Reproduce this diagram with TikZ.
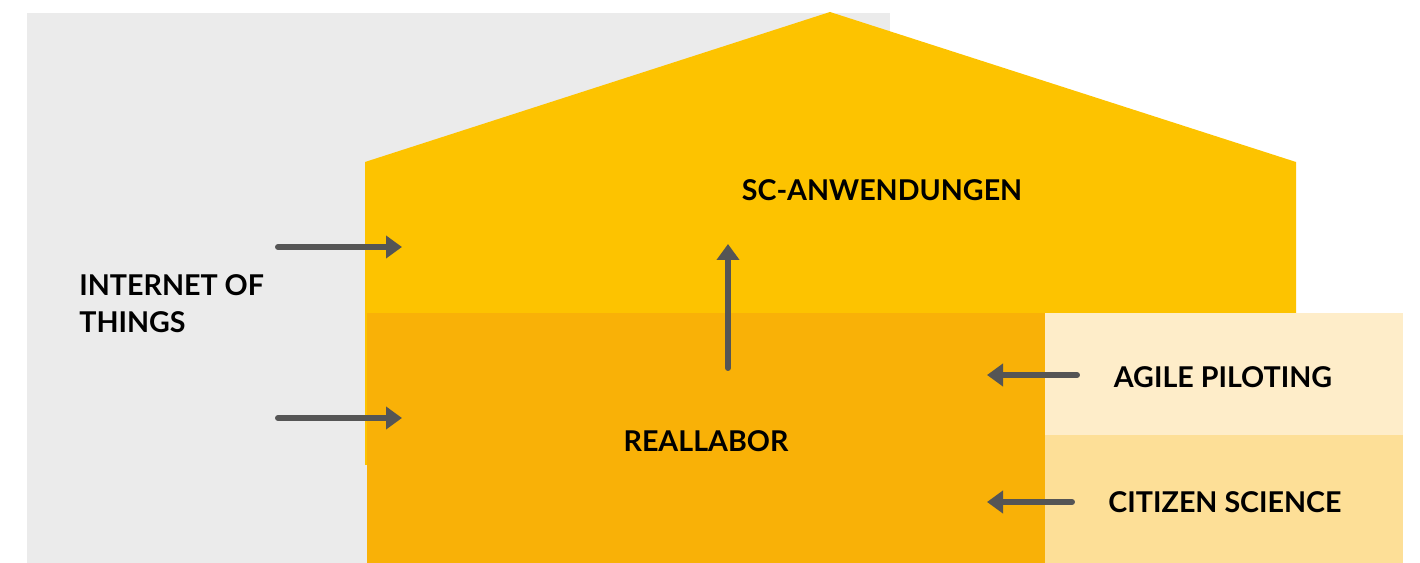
\documentclass[tikz,border=0pt]{standalone}
\usepackage{fontspec}
\setmainfont{Lato}
\usepackage{tikz}
\usetikzlibrary{arrows.meta, positioning}
\definecolor{labgrey}{HTML}{EBEBEB}
\definecolor{labyellow}{HTML}{FDC300}
\definecolor{laborange}{HTML}{F9B107}
\definecolor{labpale}{HTML}{FEEDC9}
\definecolor{labsand}{HTML}{FDDF97}
\definecolor{labarrow}{HTML}{555555}

\begin{document}
\begin{tikzpicture}[x=0.02cm, y=-0.02cm,
  label/.style={font=\bfseries\fontsize{16.3}{21}\selectfont, text=black, inner sep=0pt},
  arrow/.style={-{Triangle[length=0.32cm, width=0.44cm]}, line width=3.4pt,
    line cap=round, draw=labarrow}]
  \useasboundingbox (0,0) rectangle (1420,563);
  % background and house
  \fill[labgrey] (27,13) rectangle (890,563);
  \fill[labyellow] (365,465) -- (365,162) -- (830,12) -- (1296,162) -- (1296,313) -- (367,313) -- (367,465) -- cycle;
  \fill[laborange] (367,313) rectangle (1045,563);
  \fill[labpale] (1045,313) rectangle (1403,435);
  \fill[labsand] (1045,435) rectangle (1403,563);

  \node[label] (apps) at (882,190) {SC-ANWENDUNGEN};
  \node[label] (lab) at (706,441) {REALLABOR};
  \node[label, align=left, anchor=west] (iot) at (79,304) {INTERNET OF\\THINGS};
  \node[label] (agile) at (1223,377) {AGILE PILOTING};
  \node[label] (citizen) at (1225,502) {CITIZEN SCIENCE};

  % arrow ends
  \coordinate (iotA) at (278,247);
  \coordinate (iotB) at (278,418);
  \coordinate (houseA) at (402,247);
  \coordinate (houseB) at (402,418);
  \coordinate (labtop) at (728,368);
  \coordinate (appsin) at (728,244);
  \coordinate (agileout) at (1077,375);
  \coordinate (citizenout) at (1072,502);
  \coordinate (agilein) at (987,375);
  \coordinate (citizenin) at (987,502);

  \draw[arrow] (iotA) -- (houseA);
  \draw[arrow] (iotB) -- (houseB);
  \draw[arrow] (labtop) -- (appsin);
  \draw[arrow] (agileout) -- (agilein);
  \draw[arrow] (citizenout) -- (citizenin);
\end{tikzpicture}
\end{document}
